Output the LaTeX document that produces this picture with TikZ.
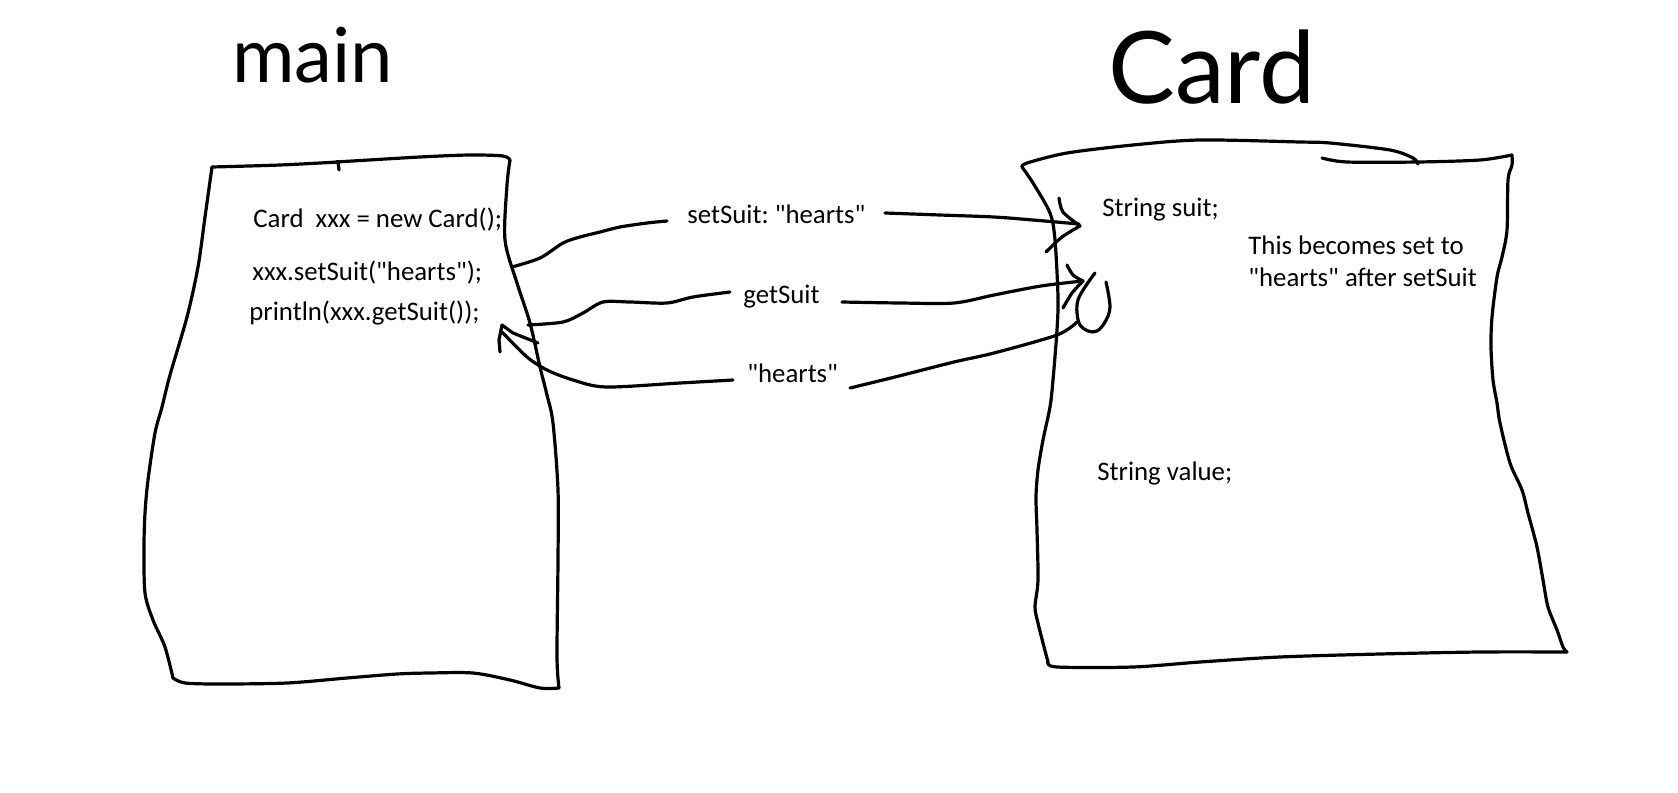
\documentclass[tikz,border=0pt]{standalone}
\usepackage{fontspec}
\setmainfont{Carlito}[Ligatures=TeXOff]
\newfontfamily\handfont{Lato}
\frenchspacing
\begin{document}
\begin{tikzpicture}[x=0.5pt,y=-0.5pt,
  ink/.style={draw=black, line width=1.6pt, line cap=round, line join=round},
  txt/.style={anchor=base west, inner sep=0pt, font=\fontsize{13.4}{16}\selectfont},
  ttl/.style={anchor=base west, inner sep=0pt}]
\useasboundingbox[fill=white] (0,0) rectangle (1678,793);

% ---------- titles ----------
\node[ttl, font=\handfont\fontsize{38}{40}\selectfont] (tmain) at (232,82) {main};
\node[ttl, font=\handfont\fontsize{50}{52}\selectfont] (tcard) at (1108,103) {Card};

% ---------- main box ----------
\draw[ink] plot[smooth,tension=0.5] coordinates {(212,167) (280,165) (338,162)};
\draw[ink] (338,162) -- (339,170);
\draw[ink] plot[smooth,tension=0.5] coordinates {(336,162) (420,157) (470,155) (503,156) (510,160)};
\draw[ink] plot[smooth,tension=0.5] coordinates {(510,160) (507,185) (505,240) (517,283) (530,323) (540,367) (547,395) (553,423) (558,490) (558,560) (557,657) (559,688)};
\draw[ink] plot[smooth,tension=0.5] coordinates {(559,688) (540,688) (510,680) (473,673) (430,673) (397,674) (347,678) (287,683) (220,684) (185,683) (173,678)};
\draw[ink] plot[smooth,tension=0.5] coordinates {(173,678) (165,647) (153,620) (145,593) (144,547) (145,513) (148,480) (155,433) (162,407) (170,375) (187,317) (198,267) (205,217) (212,167)};

% ---------- Card box ----------
\draw[ink] plot[smooth,tension=0.5] coordinates {(1022,167) (1027,163) (1067,153) (1133,145) (1200,140) (1300,142) (1330,143) (1390,150) (1413,158) (1418,164)};
\draw[ink] plot[smooth,tension=0.5] coordinates {(1322,158) (1347,162) (1418,162) (1480,160) (1512,155)};
\draw[ink] plot[smooth,tension=0.5] coordinates {(1512,155) (1512,165) (1508,180) (1507,230) (1502,257) (1497,277) (1492,317) (1491,347) (1493,380) (1497,403) (1500,423) (1510,463) (1522,490) (1528,513) (1537,547) (1543,580) (1548,607) (1557,630) (1563,647) (1567,652)};
\draw[ink] plot[smooth,tension=0.5] coordinates {(1567,652) (1480,652) (1380,654) (1280,657) (1200,662) (1133,667) (1057,667) (1048,662)};
\draw[ink] plot[smooth,tension=0.5] coordinates {(1048,662) (1043,643) (1038,623) (1035,607) (1038,580) (1037,530) (1036,497) (1038,470) (1043,440) (1050,407) (1053,380) (1057,330) (1058,297) (1055,240) (1050,213) (1033,183) (1022,167)};

% ---------- texts ----------
\node[txt] (l1) at (253,227) {Card\ \ xxx = new Card();};
\node[txt] (l2) at (252,280) {xxx.setSuit("hearts");};
\node[txt] (l3) at (249,320) {println(xxx.getSuit());};
\node[txt] (lblset) at (687,223) {setSuit: "hearts"};
\node[txt] (lblget) at (743,303) {getSuit};
\node[txt] (lblret) at (747,382) {"hearts"};
\node[txt] (suit) at (1102,216) {String suit;};
\node[txt] (note1) at (1248,254) {This becomes set to};
\node[txt] (note2) at (1248,286) {"hearts" after setSuit};
\node[txt] (val) at (1097,480) {String value;};

% ---------- connector points ----------
\coordinate (s1) at (512,267);
\coordinate (s1e) at (667,221);
\coordinate (t1s) at (885,213);
\coordinate (t1) at (1080,226);
\coordinate (s2) at (528,325);
\coordinate (s2e) at (730,292);
\coordinate (t2s) at (842,302);
\coordinate (t2) at (1083,281);
\coordinate (r0) at (1077,322);
\coordinate (r0e) at (850,388);
\coordinate (r1s) at (733,380);
\coordinate (rt) at (502,325);

% setSuit arrow
\draw[ink] plot[smooth,tension=0.5] coordinates {(s1) (540,258) (563,243) (580,237) (600,232) (620,227) (647,223) (s1e)};
\draw[ink] plot[smooth,tension=0.5] coordinates {(t1s) (940,215) (994,217) (1033,220) (1079,224)};
\draw[ink] plot[smooth,tension=0.5] coordinates {(1059,198) (1063,212) (t1)};
\draw[ink] plot[smooth,tension=0.5] coordinates {(t1) (1062,237) (1046,252)};

% getSuit arrow
\draw[ink] plot[smooth,tension=0.5] coordinates {(s2) (563,322) (583,313) (603,302) (630,302) (667,303) (693,297) (s2e)};
\draw[ink] plot[smooth,tension=0.5] coordinates {(t2s) (900,303) (954,303) (994,295) (1041,286) (t2)};
\draw[ink] plot[smooth,tension=0.5] coordinates {(1067,265) (1073,275) (t2)};
\draw[ink] plot[smooth,tension=0.5] coordinates {(t2) (1072,293) (1063,308)};

% teardrop
\draw[ink] plot[smooth,tension=0.6] coordinates {(1106,282) (1110,307) (1105,322) (1097,331) (1088,331) (1080,325) (1077,313) (1078,300) (1085,287) (1095,273)};

% return arrow
\draw[ink] plot[smooth,tension=0.5] coordinates {(r0) (1057,335) (994,353) (954,362) (895,377) (r0e)};
\draw[ink] plot[smooth,tension=0.5] coordinates {(r1s) (680,383) (606,387) (573,380) (547,370) (527,357) (502,332)};
\draw[ink] (538,343) -- (513,333) -- (rt) -- (499,340) -- (500,352);
\end{tikzpicture}
\end{document}
